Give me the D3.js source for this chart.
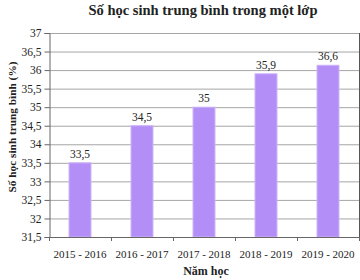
<!DOCTYPE html>
<html><head><meta charset="utf-8">
<script src="https://cdn.jsdelivr.net/npm/d3@7"></script>
<style>body{margin:0;background:#fff}svg{display:block}</style>
</head><body>
<svg id="c" width="360" height="280"></svg>
<script>
const categories = ["2015 - 2016","2016 - 2017","2017 - 2018","2018 - 2019","2019 - 2020"];
// drawn bar heights (last bar is drawn near 36,1 though labelled 36,6)
const values = [33.5, 34.5, 35, 35.9, 36.13];
const valueLabels = ["33,5","34,5","35","35,9","36,6"];
const yTicks = [31.5,32,32.5,33,33.5,34,34.5,35,35.5,36,36.5,37];
const title = "Số học sinh trung bình trong một lớp";
const yTitle = "Số học sinh trung bình (%)";
const xTitle = "Năm học";

const svg = d3.select("#c");
const font = "'Liberation Serif','DejaVu Serif',serif";
const m = {l:49, r:359, t:33, b:237};
const x = d3.scaleBand().domain(categories).range([m.l, m.r]).paddingInner(0.646).paddingOuter(0.323);
const y = d3.scaleLinear().domain([31.5, 37]).range([m.b, m.t]);
const fmt = d => String(d).replace(".", ",");

// gridlines
svg.append("g").selectAll("line").data(yTicks.slice(1)).join("line")
  .attr("x1", m.l).attr("x2", m.r).attr("y1", d=>y(d)+0.5).attr("y2", d=>y(d)+0.5)
  .attr("stroke", "#a6a6a6").attr("stroke-width", 1);
// right border
svg.append("line").attr("x1", m.r+0.5).attr("x2", m.r+0.5).attr("y1", m.t).attr("y2", m.b)
  .attr("stroke", "#555").attr("stroke-width", 1);

// bars
svg.append("g").selectAll("rect").data(values).join("rect")
  .attr("x", (d,i)=>x(categories[i])).attr("width", x.bandwidth())
  .attr("y", d=>y(d)).attr("height", d=>y(31.5)-y(d))
  .attr("fill", "#b48ef7").attr("stroke", "#cdb4f9").attr("stroke-width", 1);

// value labels
svg.append("g").selectAll("text").data(values).join("text")
  .attr("x", (d,i)=>x(categories[i])+x.bandwidth()/2).attr("y", d=>y(d)-5)
  .attr("text-anchor", "middle").attr("font-family", font).attr("font-size", 11.5).attr("fill", "#222")
  .text((d,i)=>valueLabels[i]);

// y axis
const ya = svg.append("g").attr("transform", `translate(${m.l+0.5},0)`)
  .call(d3.axisLeft(y).tickValues(yTicks).tickFormat(fmt).tickSize(5).tickPadding(3));
ya.selectAll("path,line").attr("stroke", "#666");
ya.selectAll("text").attr("font-family", font).attr("font-size", 11.5).attr("fill", "#222");

// x axis
const xa = svg.append("g").attr("transform", `translate(0,${m.b+0.5})`)
  .call(d3.axisBottom(x).tickSize(0).tickPadding(13));
xa.select("path").attr("stroke", "#666").attr("d", `M${m.l},0H${m.r+0.5}`);
xa.selectAll("text").attr("font-family", font).attr("font-size", 11).attr("fill", "#222");
const step = x.step();
svg.append("g").selectAll("line").data(d3.range(categories.length+1)).join("line")
  .attr("x1", i=>m.l+0.5+i*step).attr("x2", i=>m.l+0.5+i*step)
  .attr("y1", m.b).attr("y2", m.b+4).attr("stroke", "#666");

// titles
svg.append("text").attr("x", 203).attr("y", 14.5).attr("text-anchor", "middle")
  .attr("font-family", font).attr("font-weight", "bold").attr("font-size", 14.5).attr("fill", "#222").text(title);
svg.append("text").attr("transform", "translate(16,127) rotate(-90)").attr("text-anchor", "middle")
  .attr("font-family", font).attr("font-weight", "bold").attr("font-size", 11.3).attr("fill", "#222").text(yTitle);
svg.append("text").attr("x", 206).attr("y", 275).attr("text-anchor", "middle")
  .attr("font-family", font).attr("font-weight", "bold").attr("font-size", 12).attr("fill", "#222").text(xTitle);
</script>
</body></html>
